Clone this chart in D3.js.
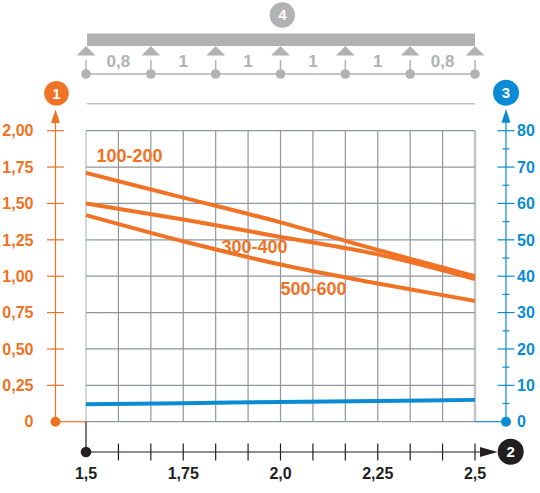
<!DOCTYPE html>
<html><head><meta charset="utf-8">
<script src="https://cdn.jsdelivr.net/npm/d3@7"></script>
<style>
html,body{margin:0;padding:0;background:#fff;}
svg{display:block;font-family:"Liberation Sans",Arial,Helvetica,sans-serif;font-weight:bold;}
</style></head>
<body>
<svg id="c" width="540" height="493"></svg>
<script>
// ---- data ----
const spanX = [1.5, 1.75, 2.0, 2.25, 2.5];
const xTickLabels = ["1,5", "1,75", "2,0", "2,25", "2,5"];
const series100_200 = [1.71, 1.54, 1.37, 1.18, 1.00];
const series300_400 = [1.50, 1.39, 1.27, 1.15, 0.98];
const series500_600 = [1.42, 1.24, 1.08, 0.95, 0.83];
const seriesBlue = [4.8, 5.1, 5.4, 5.7, 6.0];
const seriesNames = ["100-200", "300-400", "500-600"];
const leftTicks = [0, 0.25, 0.5, 0.75, 1.0, 1.25, 1.5, 1.75, 2.0];
const leftTickLabels = ["0", "0,25", "0,50", "0,75", "1,00", "1,25", "1,50", "1,75", "2,00"];
const rightTicks = [0, 10, 20, 30, 40, 50, 60, 70, 80];
const rightMinor = [5, 15, 25, 35, 45, 55, 65, 75];
const spanLabels = ["0,8", "1", "1", "1", "1", "0,8"];

// ---- setup ----
const ORANGE = "#f07224", BLUE = "#0a8bd3", GRAY = "#b2b2b2", GRID = "#8f969d", BLACK = "#231f20";
const svg = d3.select("#c");
const x = d3.scaleLinear().domain([1.5, 2.5]).range([86, 475]);
const yL = d3.scaleLinear().domain([0, 2]).range([421.7, 130.7]);
const yR = d3.scaleLinear().domain([0, 80]).range([421.7, 130.7]);
const xGridVals = d3.range(13).map(i => 1.5 + i / 12);
const supports = d3.scaleLinear().domain([0, 6]).range([86, 475]);

// ---- top beam ----
const g4 = svg.append("g");
g4.append("rect").attr("x", 87).attr("y", 33.5).attr("width", 388).attr("height", 12.5).attr("fill", GRAY);
g4.append("line").attr("x1", supports(0)).attr("x2", supports(6)).attr("y1", 74).attr("y2", 74)
  .attr("stroke", GRAY).attr("stroke-width", 1.5);
d3.range(7).forEach(i => {
  const sx = supports(i);
  g4.append("path").attr("d", `M${sx},46 L${sx - 9.3},55.5 L${sx + 9.3},55.5 Z`).attr("fill", GRAY);
  g4.append("line").attr("x1", sx).attr("x2", sx).attr("y1", 60).attr("y2", 74).attr("stroke", GRAY).attr("stroke-width", 1.5);
  g4.append("circle").attr("cx", sx).attr("cy", 74).attr("r", 4.8).attr("fill", GRAY);
});
spanLabels.forEach((t, i) => {
  g4.append("text").attr("x", (supports(i) + supports(i + 1)) / 2).attr("y", 67)
    .attr("text-anchor", "middle").attr("font-size", 17).attr("fill", GRAY).text(t);
});
g4.append("line").attr("x1", 87).attr("x2", 475).attr("y1", 103.7).attr("y2", 103.7)
  .attr("stroke", "#c2c2c2").attr("stroke-width", 1.5);

// ---- grid ----
const grid = svg.append("g");
xGridVals.forEach((v, i) => {
  grid.append("line").attr("x1", x(v)).attr("x2", x(v)).attr("y1", yL(2)).attr("y2", yL(0))
    .attr("stroke", i === 12 ? "#c4c4c4" : (i === 0 ? "#b8bcc0" : GRID)).attr("stroke-width", i === 12 ? 2.5 : 1.2);
});
leftTicks.forEach(v => {
  grid.append("line").attr("x1", x(1.5)).attr("x2", x(2.5)).attr("y1", yL(v)).attr("y2", yL(v))
    .attr("stroke", GRID).attr("stroke-width", 1.2);
});

// ---- left axis (orange) ----
const la = svg.append("g");
const lax = 55.5;
la.append("line").attr("x1", lax).attr("x2", lax).attr("y1", yL(0)).attr("y2", 120).attr("stroke", ORANGE).attr("stroke-width", 1.2);
la.append("path").attr("d", `M${lax},109.5 L${lax - 4.5},123 L${lax + 4.5},123 Z`).attr("fill", ORANGE);
la.append("line").attr("x1", lax).attr("x2", x(1.5)).attr("y1", yL(0)).attr("y2", yL(0)).attr("stroke", ORANGE).attr("stroke-width", 1.2);
la.append("circle").attr("cx", lax).attr("cy", yL(0)).attr("r", 5).attr("fill", ORANGE);
leftTicks.forEach((v, i) => {
  if (v > 0) la.append("line").attr("x1", lax - 8.5).attr("x2", lax + 8.5).attr("y1", yL(v)).attr("y2", yL(v))
    .attr("stroke", ORANGE).attr("stroke-width", 1.2);
  la.append("text").attr("x", 33.5).attr("y", yL(v)).attr("dy", "0.36em").attr("text-anchor", "end")
    .attr("font-size", 16).attr("fill", ORANGE).text(leftTickLabels[i]);
});
la.append("circle").attr("cx", 56.5).attr("cy", 93.3).attr("r", 12.3).attr("fill", ORANGE);
la.append("text").attr("x", 56.5).attr("y", 93.3).attr("dy", "0.36em").attr("text-anchor", "middle")
  .attr("font-size", 15).attr("fill", "#fff").text("1");

// ---- right axis (blue) ----
const ra = svg.append("g");
const rax = 506;
ra.append("line").attr("x1", rax).attr("x2", rax).attr("y1", yR(0)).attr("y2", 120).attr("stroke", BLUE).attr("stroke-width", 1.2);
ra.append("path").attr("d", `M${rax},109 L${rax - 4.5},122.7 L${rax + 4.5},122.7 Z`).attr("fill", BLUE);
ra.append("line").attr("x1", x(2.5)).attr("x2", rax).attr("y1", yR(0)).attr("y2", yR(0)).attr("stroke", BLUE).attr("stroke-width", 1.2);
ra.append("circle").attr("cx", rax).attr("cy", yR(0)).attr("r", 5).attr("fill", BLUE);
rightTicks.forEach(v => {
  if (v > 0) ra.append("line").attr("x1", rax - 8.5).attr("x2", rax + 8.5).attr("y1", yR(v)).attr("y2", yR(v))
    .attr("stroke", BLUE).attr("stroke-width", 1.2);
  ra.append("text").attr("x", 517).attr("y", yR(v)).attr("dy", "0.36em").attr("text-anchor", "start")
    .attr("font-size", 16).attr("fill", BLUE).text(v);
});
rightMinor.forEach(v => {
  ra.append("line").attr("x1", rax - 3.5).attr("x2", rax + 3.5).attr("y1", yR(v)).attr("y2", yR(v))
    .attr("stroke", BLUE).attr("stroke-width", 1.2);
});
ra.append("circle").attr("cx", 506).attr("cy", 92.7).attr("r", 13).attr("fill", BLUE);
ra.append("text").attr("x", 506).attr("y", 92.7).attr("dy", "0.36em").attr("text-anchor", "middle")
  .attr("font-size", 15).attr("fill", "#fff").text("3");

// ---- bottom axis (black) ----
const ba = svg.append("g");
const bay = 452;
ba.append("line").attr("x1", x(1.5)).attr("x2", x(1.5)).attr("y1", yL(0)).attr("y2", bay).attr("stroke", BLACK).attr("stroke-width", 1.2);
ba.append("line").attr("x1", x(1.5)).attr("x2", 485).attr("y1", bay).attr("y2", bay).attr("stroke", BLACK).attr("stroke-width", 1.2);
ba.append("path").attr("d", `M497.5,${bay} L480,${bay - 5} L480,${bay + 5} Z`).attr("fill", BLACK);
ba.append("circle").attr("cx", x(1.5)).attr("cy", bay).attr("r", 5.3).attr("fill", BLACK);
xGridVals.slice(1).forEach(v => {
  ba.append("line").attr("x1", x(v)).attr("x2", x(v)).attr("y1", bay - 8.5).attr("y2", bay + 8.5)
    .attr("stroke", BLACK).attr("stroke-width", 1.2);
});
spanX.forEach((v, i) => {
  ba.append("text").attr("x", x(v)).attr("y", 478.5).attr("text-anchor", "middle")
    .attr("font-size", 16).attr("fill", BLACK).text(xTickLabels[i]);
});
ba.append("circle").attr("cx", 510.7).attr("cy", 451.7).attr("r", 13).attr("fill", BLACK);
ba.append("text").attr("x", 510.7).attr("y", 451.7).attr("dy", "0.36em").attr("text-anchor", "middle")
  .attr("font-size", 15).attr("fill", "#fff").text("2");

// ---- top circle 4 ----
g4.append("circle").attr("cx", 282.3).attr("cy", 15).attr("r", 12.7).attr("fill", GRAY);
g4.append("text").attr("x", 282.3).attr("y", 15).attr("dy", "0.36em").attr("text-anchor", "middle")
  .attr("font-size", 15).attr("fill", "#fff").text("4");

// ---- data lines ----
const lineL = d3.line().x((d, i) => x(spanX[i])).y(d => yL(d)).curve(d3.curveMonotoneX);
const lineR = d3.line().x((d, i) => x(spanX[i])).y(d => yR(d)).curve(d3.curveMonotoneX);
[series500_600, series300_400, series100_200].forEach(s => {
  svg.append("path").attr("d", lineL(s)).attr("fill", "none").attr("stroke", ORANGE).attr("stroke-width", 4);
});
svg.append("path").attr("d", lineR(seriesBlue)).attr("fill", "none").attr("stroke", BLUE).attr("stroke-width", 4);

// ---- series labels ----
const labelPos = [[96.5, 155.7], [221.5, 246.7], [280.5, 289]];
seriesNames.forEach((n, i) => {
  svg.append("text").attr("x", labelPos[i][0]).attr("y", labelPos[i][1]).attr("dy", "0.36em")
    .attr("font-size", 18).attr("fill", ORANGE).text(n);
});
</script>
</body></html>
